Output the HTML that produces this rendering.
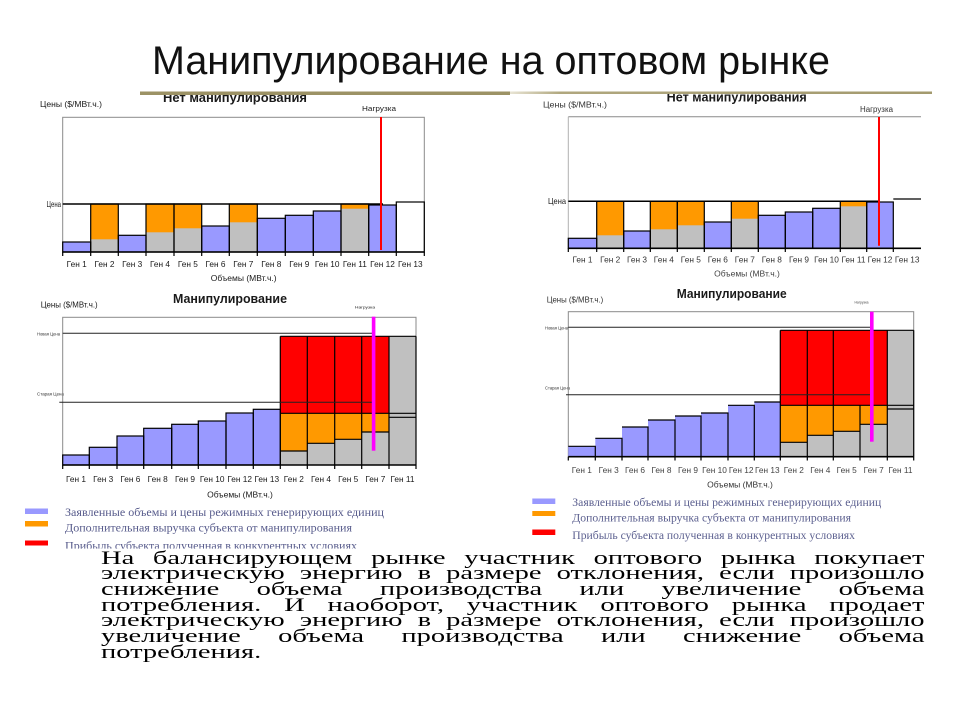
<!DOCTYPE html>
<html>
<head>
<meta charset="utf-8">
<style>
  html,body{margin:0;padding:0;background:#fff;}
  body{width:960px;height:720px;position:relative;overflow:hidden;}
  svg{position:absolute;left:0;top:0;}
  .pl{position:absolute;left:101px;width:549px;height:15.67px;line-height:15.67px;
      font-family:"Liberation Serif","DejaVu Serif",serif;font-size:19px;letter-spacing:0;
      color:#000;text-align:justify;text-align-last:justify;
      transform:scaleX(1.5);transform-origin:0 0;}
  .pl.last{text-align:left;text-align-last:left;}
</style>
</head>
<body>
<svg width="960" height="720" viewBox="0 0 960 720" xmlns="http://www.w3.org/2000/svg">
  <rect x="0" y="0" width="960" height="720" fill="#fff"/>

  <!-- Main title -->
  <text x="152" y="74" font-family="Liberation Sans, Arial, sans-serif" font-size="40" fill="#111" textLength="678" lengthAdjust="spacingAndGlyphs">Манипулирование на оптовом рынке</text>

  <g font-family="Liberation Sans, Arial, sans-serif" fill="#1a1a1a">

  <!-- ================= TOP-LEFT CHART ================= -->
  <text x="163" y="102.2" font-size="12.5" font-weight="bold" textLength="144" lengthAdjust="spacingAndGlyphs">Нет манипулирования</text>
  <text x="40" y="107" font-size="8.5" textLength="62" lengthAdjust="spacingAndGlyphs">Цены ($/МВт.ч.)</text>
  <text x="379" y="111" font-size="7.5" text-anchor="middle" textLength="34" lengthAdjust="spacingAndGlyphs">Нагрузка</text>
  <text x="46.5" y="207" font-size="8.3" textLength="14.5" lengthAdjust="spacingAndGlyphs">Цена</text>
  <rect x="62.7" y="117.3" width="361.6" height="134.7" fill="none" stroke="#8a8a8a" stroke-width="1"/>
  <g stroke="none">
    <rect x="62.7" y="242" width="28" height="10" fill="#9999ff"/>
    <rect x="118.3" y="235.3" width="27.7" height="16.7" fill="#9999ff"/>
    <rect x="201.7" y="226" width="27.6" height="26" fill="#9999ff"/>
    <rect x="257.3" y="218.3" width="28" height="33.7" fill="#9999ff"/>
    <rect x="285.3" y="215.3" width="28" height="36.7" fill="#9999ff"/>
    <rect x="313.3" y="211" width="27.7" height="41" fill="#9999ff"/>
    <rect x="368.7" y="205" width="27.6" height="47" fill="#9999ff"/>
    <rect x="90.7" y="204" width="27.6" height="48" fill="#ff9900"/>
    <rect x="146" y="204" width="28" height="48" fill="#ff9900"/>
    <rect x="174" y="204" width="27.7" height="48" fill="#ff9900"/>
    <rect x="229.3" y="204" width="28" height="48" fill="#ff9900"/>
    <rect x="341" y="204" width="27.7" height="48" fill="#ff9900"/>
    <rect x="90.7" y="239.3" width="27.6" height="12.7" fill="#c0c0c0"/>
    <rect x="146" y="232.3" width="28" height="19.7" fill="#c0c0c0"/>
    <rect x="174" y="228.3" width="27.7" height="23.7" fill="#c0c0c0"/>
    <rect x="229.3" y="222.3" width="28" height="29.7" fill="#c0c0c0"/>
    <rect x="341" y="208.7" width="27.7" height="43.3" fill="#c0c0c0"/>
  </g>
  <g fill="none" stroke="#000" stroke-width="1.2">
    <rect x="62.7" y="242" width="28" height="10"/>
    <rect x="90.7" y="204" width="27.6" height="48"/>
    <rect x="118.3" y="235.3" width="27.7" height="16.7"/>
    <rect x="146" y="204" width="28" height="48"/>
    <rect x="174" y="204" width="27.7" height="48"/>
    <rect x="201.7" y="226" width="27.6" height="26"/>
    <rect x="229.3" y="204" width="28" height="48"/>
    <rect x="257.3" y="218.3" width="28" height="33.7"/>
    <rect x="285.3" y="215.3" width="28" height="36.7"/>
    <rect x="313.3" y="211" width="27.7" height="41"/>
    <rect x="341" y="204" width="27.7" height="48"/>
    <rect x="368.7" y="205" width="27.6" height="47"/>
    <rect x="396.3" y="202" width="28" height="50"/>
    <line x1="62.7" y1="204" x2="383" y2="204" stroke-width="1.5"/>
    <line x1="62.7" y1="252" x2="424.3" y2="252" stroke-width="1.6"/>
    <path d="M62.7 252V256M90.7 252V256M118.3 252V256M146 252V256M174 252V256M201.7 252V256M229.3 252V256M257.3 252V256M285.3 252V256M313.3 252V256M341 252V256M368.7 252V256M396.3 252V256M424.3 252V256"/>
  </g>
  <line x1="381" y1="117" x2="381" y2="250" stroke="#ff0000" stroke-width="2"/>
  <g font-size="8.3" text-anchor="middle">
    <text x="76.7" y="267">Ген 1</text><text x="104.5" y="267">Ген 2</text><text x="132.2" y="267">Ген 3</text>
    <text x="160" y="267">Ген 4</text><text x="187.9" y="267">Ген 5</text><text x="215.5" y="267">Ген 6</text>
    <text x="243.3" y="267">Ген 7</text><text x="271.3" y="267">Ген 8</text><text x="299.3" y="267">Ген 9</text>
    <text x="327.2" y="267">Ген 10</text><text x="354.9" y="267">Ген 11</text><text x="382.5" y="267">Ген 12</text>
    <text x="410.3" y="267">Ген 13</text>
  </g>
  <text x="243.7" y="281" font-size="8.5" text-anchor="middle">Объемы (МВт.ч.)</text>

  <!-- ================= TOP-RIGHT CHART ================= -->
  <text x="666.7" y="101.7" font-size="12.5" font-weight="bold" textLength="140" lengthAdjust="spacingAndGlyphs">Нет манипулирования</text>
  <text x="543" y="107.5" font-size="8.5" textLength="64" lengthAdjust="spacingAndGlyphs" fill="#333">Цены ($/МВт.ч.)</text>
  <text x="876.5" y="112" font-size="7.8" text-anchor="middle" textLength="33" lengthAdjust="spacingAndGlyphs" fill="#333">Нагрузка</text>
  <text x="548" y="204" font-size="8.3" textLength="18" lengthAdjust="spacingAndGlyphs">Цена</text>
  <line x1="568.3" y1="116.7" x2="921" y2="116.7" stroke="#8a8a8a" stroke-width="1"/>
  <line x1="568.3" y1="116.7" x2="568.3" y2="248.3" stroke="#b0b0b0" stroke-width="1"/>
  <g stroke="none">
    <rect x="568.3" y="238.3" width="28.4" height="10" fill="#9999ff"/>
    <rect x="623.7" y="231" width="26.6" height="17.3" fill="#9999ff"/>
    <rect x="704.3" y="222" width="27" height="26.3" fill="#9999ff"/>
    <rect x="758.3" y="215.3" width="27" height="33" fill="#9999ff"/>
    <rect x="785.3" y="212" width="27.4" height="36.3" fill="#9999ff"/>
    <rect x="812.7" y="208.3" width="27.6" height="40" fill="#9999ff"/>
    <rect x="866.7" y="202" width="26.6" height="46.3" fill="#9999ff"/>
    <rect x="596.7" y="201.3" width="27" height="47" fill="#ff9900"/>
    <rect x="650.3" y="201.3" width="27" height="47" fill="#ff9900"/>
    <rect x="677.3" y="201.3" width="27" height="47" fill="#ff9900"/>
    <rect x="731.3" y="201.3" width="27" height="47" fill="#ff9900"/>
    <rect x="840.3" y="201.3" width="26.4" height="47" fill="#ff9900"/>
    <rect x="596.7" y="235.3" width="27" height="13" fill="#c0c0c0"/>
    <rect x="650.3" y="229.3" width="27" height="19" fill="#c0c0c0"/>
    <rect x="677.3" y="225.3" width="27" height="23" fill="#c0c0c0"/>
    <rect x="731.3" y="218.7" width="27" height="29.6" fill="#c0c0c0"/>
    <rect x="840.3" y="206.3" width="26.4" height="42" fill="#c0c0c0"/>
  </g>
  <g fill="none" stroke="#000" stroke-width="1.2">
    <rect x="568.3" y="238.3" width="28.4" height="10"/>
    <rect x="596.7" y="201.3" width="27" height="47"/>
    <rect x="623.7" y="231" width="26.6" height="17.3"/>
    <rect x="650.3" y="201.3" width="27" height="47"/>
    <rect x="677.3" y="201.3" width="27" height="47"/>
    <rect x="704.3" y="222" width="27" height="26.3"/>
    <rect x="731.3" y="201.3" width="27" height="47"/>
    <rect x="758.3" y="215.3" width="27" height="33"/>
    <rect x="785.3" y="212" width="27.4" height="36.3"/>
    <rect x="812.7" y="208.3" width="27.6" height="40"/>
    <rect x="840.3" y="201.3" width="26.4" height="47"/>
    <rect x="866.7" y="202" width="26.6" height="46.3"/>
    <line x1="893.3" y1="199" x2="921" y2="199"/>
    <line x1="568.3" y1="201.3" x2="880" y2="201.3" stroke-width="1.5"/>
    <line x1="568.3" y1="248.3" x2="921" y2="248.3" stroke-width="1.6"/>
    <path d="M568.3 248.3V252M596.7 248.3V252M623.7 248.3V252M650.3 248.3V252M677.3 248.3V252M704.3 248.3V252M731.3 248.3V252M758.3 248.3V252M785.3 248.3V252M840.3 248.3V252M866.7 248.3V252M893.3 248.3V252"/>
  </g>
  <line x1="879" y1="117" x2="879" y2="245.7" stroke="#ff0000" stroke-width="2"/>
  <g font-size="8.3" text-anchor="middle" fill="#333">
    <text x="582.5" y="262.3">Ген 1</text><text x="610.2" y="262.3">Ген 2</text><text x="637" y="262.3">Ген 3</text>
    <text x="663.8" y="262.3">Ген 4</text><text x="690.8" y="262.3">Ген 5</text><text x="717.8" y="262.3">Ген 6</text>
    <text x="744.8" y="262.3">Ген 7</text><text x="771.8" y="262.3">Ген 8</text><text x="799" y="262.3">Ген 9</text>
    <text x="826.5" y="262.3">Ген 10</text><text x="853.5" y="262.3">Ген 11</text><text x="880" y="262.3">Ген 12</text>
    <text x="907.2" y="262.3">Ген 13</text>
  </g>
  <text x="747" y="276.5" font-size="8.5" text-anchor="middle" fill="#444">Объемы (МВт.ч.)</text>

  <!-- ================= BOTTOM-LEFT CHART ================= -->
  <text x="173" y="302.8" font-size="12.5" font-weight="bold" textLength="114" lengthAdjust="spacingAndGlyphs">Манипулирование</text>
  <text x="40.7" y="307.5" font-size="8.5" textLength="57" lengthAdjust="spacingAndGlyphs">Цены ($/МВт.ч.)</text>
  <text x="365" y="308.5" font-size="4" text-anchor="middle" textLength="20" lengthAdjust="spacingAndGlyphs">Нагрузка</text>
  <text x="37" y="335.5" font-size="4.5" textLength="23" lengthAdjust="spacingAndGlyphs" fill="#333">Новая Цена</text>
  <text x="37" y="395.5" font-size="4.5" textLength="27" lengthAdjust="spacingAndGlyphs" fill="#333">Старая Цена</text>
  <rect x="62.7" y="317.3" width="353.3" height="147.7" fill="none" stroke="#8a8a8a" stroke-width="1"/>
  <g stroke="none">
    <rect x="62.7" y="455" width="26.6" height="10" fill="#9999ff"/>
    <rect x="89.3" y="447.3" width="27.7" height="17.7" fill="#9999ff"/>
    <rect x="117" y="436" width="26.7" height="29" fill="#9999ff"/>
    <rect x="143.7" y="428.3" width="28" height="36.7" fill="#9999ff"/>
    <rect x="171.7" y="424.3" width="26.6" height="40.7" fill="#9999ff"/>
    <rect x="198.3" y="421" width="27.7" height="44" fill="#9999ff"/>
    <rect x="226" y="413" width="27.3" height="52" fill="#9999ff"/>
    <rect x="253.3" y="409.3" width="27" height="55.7" fill="#9999ff"/>
    <rect x="280.3" y="336.3" width="108.7" height="77" fill="#ff0000"/>
    <rect x="280.3" y="413.3" width="27" height="37.7" fill="#ff9900"/>
    <rect x="307.3" y="413.3" width="27.4" height="30" fill="#ff9900"/>
    <rect x="334.7" y="413.3" width="27" height="26" fill="#ff9900"/>
    <rect x="361.7" y="413.3" width="27.3" height="18.7" fill="#ff9900"/>
    <rect x="280.3" y="451" width="27" height="14" fill="#c0c0c0"/>
    <rect x="307.3" y="443.3" width="27.4" height="21.7" fill="#c0c0c0"/>
    <rect x="334.7" y="439.3" width="27" height="25.7" fill="#c0c0c0"/>
    <rect x="361.7" y="432" width="27.3" height="33" fill="#c0c0c0"/>
    <rect x="389" y="336.3" width="27" height="128.7" fill="#c0c0c0"/>
  </g>
  <g fill="none" stroke="#000" stroke-width="1.2">
    <rect x="62.7" y="455" width="26.6" height="10"/>
    <rect x="89.3" y="447.3" width="27.7" height="17.7"/>
    <rect x="117" y="436" width="26.7" height="29"/>
    <rect x="143.7" y="428.3" width="28" height="36.7"/>
    <rect x="171.7" y="424.3" width="26.6" height="40.7"/>
    <rect x="198.3" y="421" width="27.7" height="44"/>
    <rect x="226" y="413" width="27.3" height="52"/>
    <rect x="253.3" y="409.3" width="27" height="55.7"/>
    <path d="M280.3 336.3H416M280.3 336.3V465M307.3 336.3V465M334.7 336.3V465M361.7 336.3V465M389 336.3V465M416 336.3V465M280.3 413.3H416M389 417.3H416M280.3 451H307.3M307.3 443.3H334.7M334.7 439.3H361.7M361.7 432H389"/>
    <line x1="62.7" y1="333.3" x2="373.3" y2="333.3" stroke="#222" stroke-width="1"/>
    <line x1="59.3" y1="402.3" x2="373.3" y2="402.3" stroke="#222" stroke-width="1"/>
    <line x1="62.7" y1="465" x2="416" y2="465" stroke-width="1.6"/>
    <path d="M62.7 465V469M89.3 465V469M117 465V469M143.7 465V469M171.7 465V469M198.3 465V469M226 465V469M253.3 465V469M280.3 465V469M307.3 465V469M334.7 465V469M361.7 465V469M389 465V469M416 465V469"/>
  </g>
  <rect x="371.8" y="316.7" width="3.6" height="134" fill="#ff00ff"/>
  <g font-size="8.3" text-anchor="middle">
    <text x="76" y="482">Ген 1</text><text x="103.2" y="482">Ген 3</text><text x="130.4" y="482">Ген 6</text>
    <text x="157.7" y="482">Ген 8</text><text x="185" y="482">Ген 9</text><text x="212.2" y="482">Ген 10</text>
    <text x="239.7" y="482">Ген 12</text><text x="266.8" y="482">Ген 13</text><text x="293.8" y="482">Ген 2</text>
    <text x="321" y="482">Ген 4</text><text x="348.2" y="482">Ген 5</text><text x="375.4" y="482">Ген 7</text>
    <text x="402.5" y="482">Ген 11</text>
  </g>
  <text x="240" y="497.5" font-size="8.5" text-anchor="middle">Объемы (МВт.ч.)</text>

  <!-- ================= BOTTOM-RIGHT CHART ================= -->
  <text x="676.7" y="297.8" font-size="12.5" font-weight="bold" textLength="110" lengthAdjust="spacingAndGlyphs">Манипулирование</text>
  <text x="546.7" y="302.5" font-size="8.5" textLength="56.5" lengthAdjust="spacingAndGlyphs" fill="#333">Цены ($/МВт.ч.)</text>
  <text x="861.5" y="303.5" font-size="4" text-anchor="middle" textLength="14" lengthAdjust="spacingAndGlyphs" fill="#444">Нагрузка</text>
  <text x="545" y="329.5" font-size="4.5" textLength="23" lengthAdjust="spacingAndGlyphs" fill="#333">Новая Цена</text>
  <text x="545" y="389.5" font-size="4.5" textLength="25" lengthAdjust="spacingAndGlyphs" fill="#333">Старая Цена</text>
  <rect x="568.3" y="311.7" width="345.4" height="145" fill="none" stroke="#8a8a8a" stroke-width="1"/>
  <g stroke="none">
    <rect x="568.3" y="446.3" width="27" height="10.4" fill="#9999ff"/>
    <rect x="595.3" y="438.3" width="26.7" height="18.4" fill="#9999ff"/>
    <rect x="622" y="427" width="26" height="29.7" fill="#9999ff"/>
    <rect x="648" y="420" width="27" height="36.7" fill="#9999ff"/>
    <rect x="675" y="416" width="26" height="40.7" fill="#9999ff"/>
    <rect x="701" y="413" width="27" height="43.7" fill="#9999ff"/>
    <rect x="728" y="405.3" width="26.3" height="51.4" fill="#9999ff"/>
    <rect x="754.3" y="402" width="26" height="54.7" fill="#9999ff"/>
    <rect x="780.3" y="330.3" width="107" height="75" fill="#ff0000"/>
    <rect x="780.3" y="405.3" width="27" height="37" fill="#ff9900"/>
    <rect x="807.3" y="405.3" width="26" height="30" fill="#ff9900"/>
    <rect x="833.3" y="405.3" width="26.7" height="26" fill="#ff9900"/>
    <rect x="860" y="405.3" width="27.3" height="19" fill="#ff9900"/>
    <rect x="780.3" y="442.3" width="27" height="14.4" fill="#c0c0c0"/>
    <rect x="807.3" y="435.3" width="26" height="21.4" fill="#c0c0c0"/>
    <rect x="833.3" y="431.3" width="26.7" height="25.4" fill="#c0c0c0"/>
    <rect x="860" y="424.3" width="27.3" height="32.4" fill="#c0c0c0"/>
    <rect x="887.3" y="330.3" width="26.4" height="126.4" fill="#c0c0c0"/>
  </g>
  <g fill="none" stroke="#000" stroke-width="1.2">
    <path d="M568.3 446.3H595.3V456.7M595.3 438.3H622V456.7M622 427H648V456.7M648 420H675V456.7M675 416H701V456.7M701 413H728V456.7M728 405.3H754.3V456.7M754.3 402H780.3"/>
    <path d="M780.3 330.3H913.7M780.3 330.3V456.7M807.3 330.3V456.7M833.3 330.3V456.7M887.3 330.3V456.7M913.7 330.3V456.7M860 405.3V456.7M780.3 405.3H913.7M887.3 409H913.7M780.3 442.3H807.3M807.3 435.3H833.3M833.3 431.3H860M860 424.3H887.3"/>
    <line x1="568.3" y1="327.3" x2="871.7" y2="327.3" stroke="#222" stroke-width="1"/>
    <line x1="566" y1="394.7" x2="871.7" y2="394.7" stroke="#222" stroke-width="1"/>
    <line x1="568.3" y1="456.7" x2="913.7" y2="456.7" stroke-width="1.6"/>
    <path d="M568.3 456.7V460.5M595.3 456.7V460.5M622 456.7V460.5M648 456.7V460.5M675 456.7V460.5M701 456.7V460.5M728 456.7V460.5M754.3 456.7V460.5M780.3 456.7V460.5M807.3 456.7V460.5M833.3 456.7V460.5M860 456.7V460.5M887.3 456.7V460.5M913.7 456.7V460.5"/>
  </g>
  <rect x="870" y="311.7" width="3.6" height="130" fill="#ff00ff"/>
  <g font-size="8.3" text-anchor="middle" fill="#444">
    <text x="581.8" y="473">Ген 1</text><text x="608.7" y="473">Ген 3</text><text x="635" y="473">Ген 6</text>
    <text x="661.5" y="473">Ген 8</text><text x="688" y="473">Ген 9</text><text x="714.5" y="473">Ген 10</text>
    <text x="741.2" y="473">Ген 12</text><text x="767.3" y="473">Ген 13</text><text x="793.8" y="473">Ген 2</text>
    <text x="820.3" y="473">Ген 4</text><text x="846.7" y="473">Ген 5</text><text x="873.7" y="473">Ген 7</text>
    <text x="900.5" y="473">Ген 11</text>
  </g>
  <text x="740" y="487.5" font-size="8.5" text-anchor="middle" fill="#333">Объемы (МВт.ч.)</text>
  </g>

  <!-- Decorative gold lines (over chart titles) -->
  <defs>
    <linearGradient id="gr" x1="0" x2="1" y1="0" y2="0">
      <stop offset="0" stop-color="#e8e4d4"/>
      <stop offset="0.12" stop-color="#b0a77e"/>
      <stop offset="1" stop-color="#a39a6e"/>
    </linearGradient>
  </defs>
  <rect x="140" y="91.5" width="370" height="3.5" fill="#9c9265"/>
  <rect x="510" y="91.5" width="422" height="2.5" fill="url(#gr)"/>

  <!-- Legends -->
  <rect x="25" y="508.5" width="23" height="5.5" fill="#9999ff"/>
  <rect x="25" y="521" width="23" height="5.5" fill="#ff9900"/>
  <rect x="25" y="540.5" width="23" height="5" fill="#ff0000"/>
  <g font-family="Liberation Serif, DejaVu Serif, serif" font-size="12" fill="#585c8c">
    <text x="65" y="516" textLength="319" lengthAdjust="spacingAndGlyphs">Заявленные объемы и цены режимных генерирующих единиц</text>
    <text x="65" y="531.5" textLength="287" lengthAdjust="spacingAndGlyphs">Дополнительная выручка субъекта от манипулирования</text>
    <text x="65" y="549.5" textLength="292" lengthAdjust="spacingAndGlyphs">Прибыль субъекта полученная в конкурентных условиях</text>
  </g>
  <rect x="532.3" y="498.5" width="23" height="5.5" fill="#9999ff"/>
  <rect x="532.3" y="511" width="23" height="5" fill="#ff9900"/>
  <rect x="532.3" y="529.5" width="23" height="5.5" fill="#ff0000"/>
  <g font-family="Liberation Serif, DejaVu Serif, serif" font-size="11.5" fill="#5d6190">
    <text x="572.3" y="506" textLength="309" lengthAdjust="spacingAndGlyphs">Заявленные объемы и цены режимных генерирующих единиц</text>
    <text x="572.3" y="521.5" textLength="278.7" lengthAdjust="spacingAndGlyphs">Дополнительная выручка субъекта от манипулирования</text>
    <text x="572.3" y="539" textLength="282.7" lengthAdjust="spacingAndGlyphs">Прибыль субъекта полученная в конкурентных условиях</text>
  </g>

  <!-- paragraph background (clips left legend 3rd line) -->
  <rect x="55" y="548.6" width="340" height="10" fill="#fff"/>
</svg>

<div class="pl" style="top:550.6px;">На балансирующем рынке участник оптового рынка покупает</div>
<div class="pl" style="top:566.3px;">электрическую энергию в размере отклонения, если произошло</div>
<div class="pl" style="top:581.9px;">снижение объема производства или увеличение объема</div>
<div class="pl" style="top:597.6px;">потребления. И наоборот, участник оптового рынка продает</div>
<div class="pl" style="top:613.3px;">электрическую энергию в размере отклонения, если произошло</div>
<div class="pl" style="top:628.9px;">увеличение объема производства или снижение объема</div>
<div class="pl last" style="top:644.6px;">потребления.</div>
</body>
</html>
